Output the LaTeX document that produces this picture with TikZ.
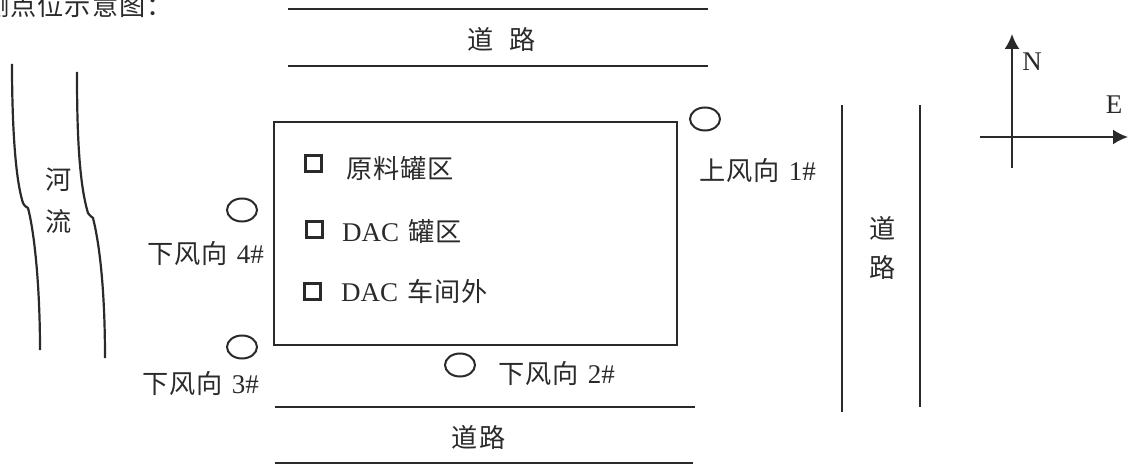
\documentclass[tikz,border=0pt]{standalone}
\usepackage{fontspec}
\setmainfont{Liberation Serif}
\newfontfamily\cjk{Noto Sans CJK SC}[Scale=0.97,LetterSpace=4]
\usetikzlibrary{shapes.geometric,arrows.meta}
\definecolor{ink}{HTML}{2A2A2A}
\tikzset{
  x=1pt,y=-1pt,
  line/.style={draw=ink,line width=1.5pt},
  riverline/.style={draw=ink,line width=2.2pt},
  site/.style={draw=ink,line width=2pt,ellipse,minimum width=30pt,minimum height=23pt,inner sep=0pt},
  tank/.style={draw=ink,line width=3pt,rectangle,minimum size=16pt,inner sep=0pt},
  lab/.style={text=ink,font=\fontsize{27}{31}\selectfont,inner sep=0pt,anchor=west},
  cen/.style={text=ink,font=\fontsize{27}{31}\selectfont,inner sep=0pt},
  axis/.style={draw=ink,line width=2pt,-{Latex[length=15pt,width=15pt]}}
}
\begin{document}
\begin{tikzpicture}
\useasboundingbox (0,0) rectangle (1129,465);
\node[lab] (title) at (-17,5.5) {\cjk 测点位示意图：};
% top road
\coordinate (ta) at (288,9); \coordinate (tb) at (708,9);
\coordinate (tc) at (288,66); \coordinate (td) at (708,66);
\draw[line] (ta) -- (tb);
\draw[line] (tc) -- (td);
\node[cen] (troad) at (501.5,39) {\cjk 道\hspace{16pt}路};
% plant
\node[draw=ink,line width=1.5pt,rectangle,minimum width=403pt,minimum height=223pt,inner sep=0pt] (plant) at (475.5,233.5) {};
\node[tank] (t1) at (313,164) {};
\node[tank] (t2) at (314,229) {};
\node[tank] (t3) at (312,291) {};
\node[lab] (l1) at (346,169) {\cjk 原料罐区};
\node[lab] (l2) at (342,232) {DAC\hspace{9pt}{\cjk 罐区}};
\node[lab] (l3) at (341,291) {DAC\hspace{9pt}{\cjk 车间外}};
% sampling points
\node[site] (p1) at (705,119) {};
\node[site] (p4) at (242,210) {};
\node[site] (p3) at (242,347) {};
\node[site] (p2) at (460,365) {};
\node[lab] (s1) at (699,171) {{\cjk 上风向}\hspace{9pt}1\#};
\node[lab] (s4) at (147,254) {{\cjk 下风向}\hspace{9pt}4\#};
\node[lab] (s3) at (142,384) {{\cjk 下风向}\hspace{9pt}3\#};
\node[lab] (s2) at (498,374) {{\cjk 下风向}\hspace{9pt}2\#};
% right road
\coordinate (ra) at (842,105); \coordinate (rb) at (842,412);
\coordinate (rc) at (920,105); \coordinate (rd) at (920,407);
\draw[line] (ra) -- (rb);
\draw[line] (rc) -- (rd);
\node[cen] (r1) at (883,228) {\cjk 道};
\node[cen] (r2) at (883,268) {\cjk 路};
% bottom road
\coordinate (ba) at (275,407); \coordinate (bb) at (695,407);
\coordinate (bc) at (275,463); \coordinate (bd) at (693,463);
\draw[line] (ba) -- (bb);
\draw[line] (bc) -- (bd);
\node[cen] (broad) at (478.5,437) {\cjk 道路};
% river
\draw[riverline,line join=round] (12,64) .. controls (12,110) and (14,175) .. (23,203)
  .. controls (25,207) and (27,207) .. (28,208)
  .. controls (35,235) and (40,290) .. (40,350);
\draw[riverline,line join=round] (77,72) .. controls (77,120) and (78,180) .. (88,213)
  .. controls (90,216) and (92,217) .. (93,218)
  .. controls (101,250) and (105,300) .. (105,358);
\node[cen] (h1) at (59,180) {\cjk 河};
\node[cen] (h2) at (59,222) {\cjk 流};
% compass
\coordinate (ns) at (1012,168); \coordinate (nn) at (1012,34);
\coordinate (ew) at (980,137); \coordinate (ee) at (1128,137);
\draw[axis] (ns) -- (nn);
\draw[axis] (ew) -- (ee);
\node[cen] (N) at (1032,62) {N};
\node[cen] (E) at (1114,105) {E};
\end{tikzpicture}
\end{document}
